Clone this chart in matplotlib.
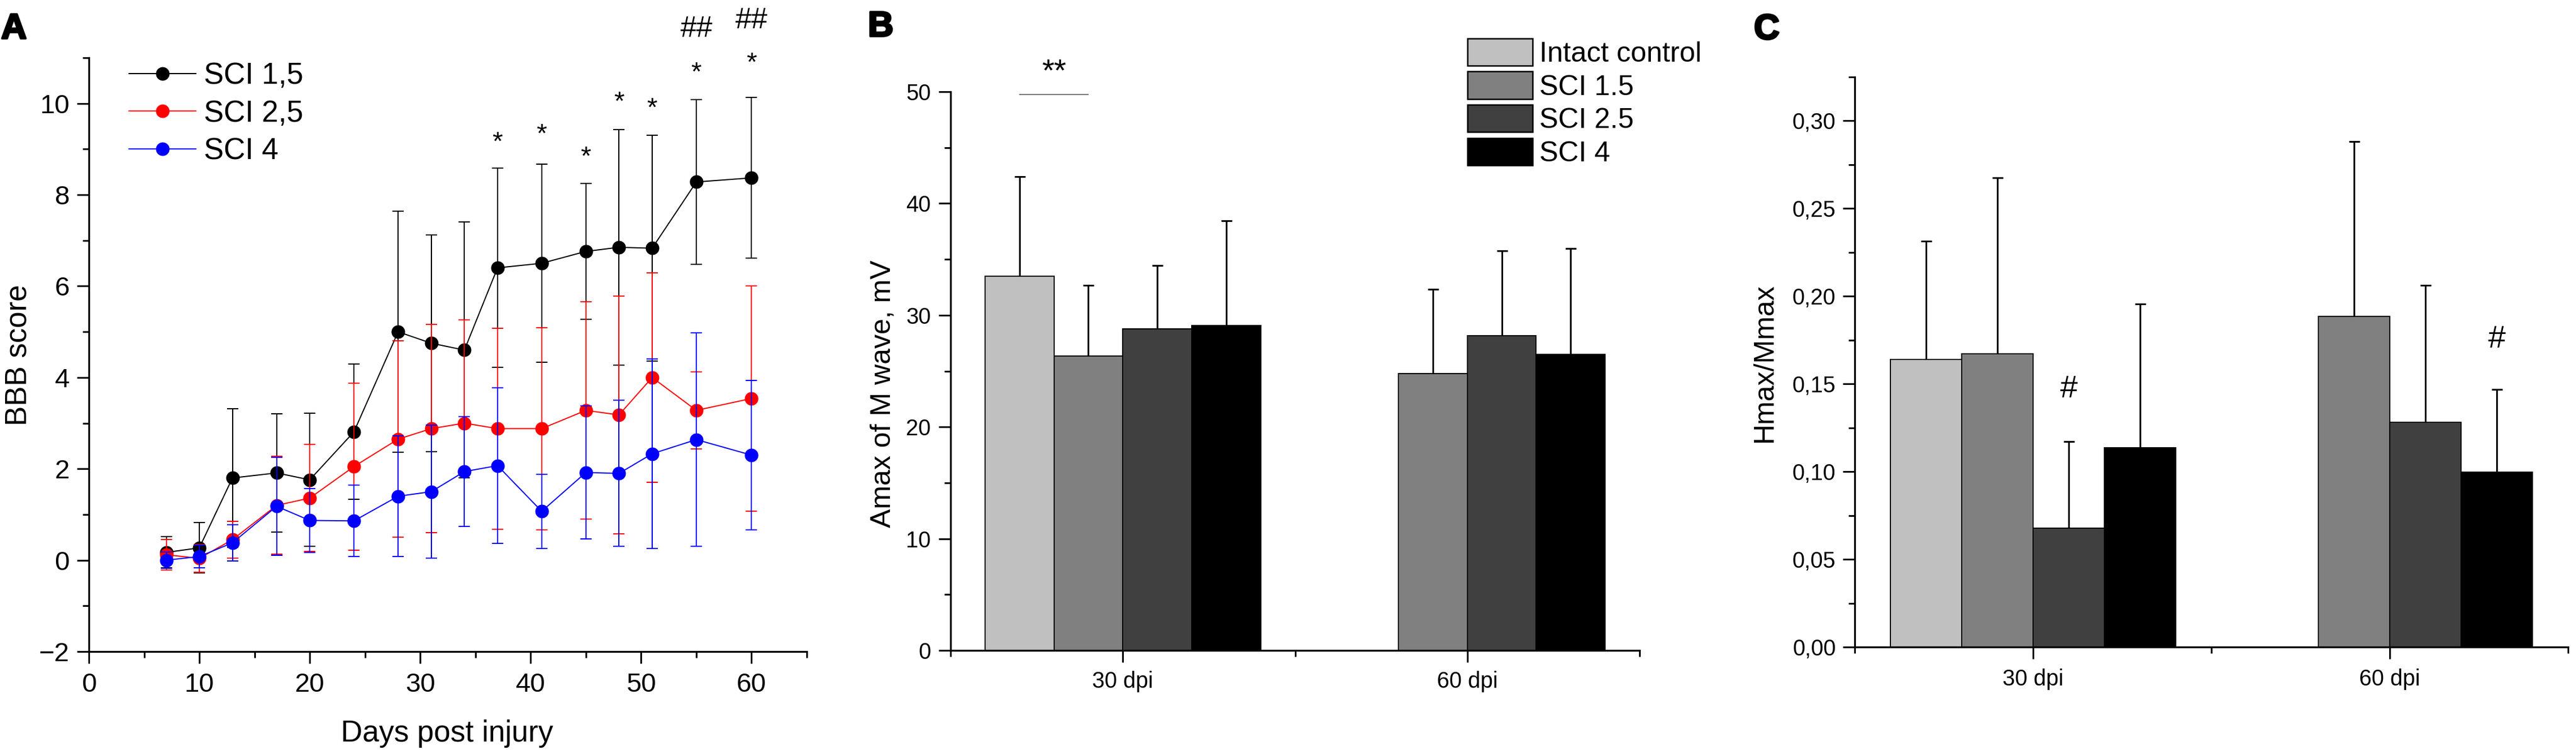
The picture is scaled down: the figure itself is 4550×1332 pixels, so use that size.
import matplotlib
matplotlib.use('Agg')
import matplotlib.pyplot as plt
import matplotlib.patheffects as pe
from matplotlib.patches import Patch
from matplotlib.ticker import MultipleLocator, FixedLocator, FuncFormatter

plt.rcParams['font.family'] = ['Liberation Sans', 'DejaVu Sans']

# ---------------- Panel A data (BBB score) ----------------
days = [7, 10, 13, 17, 20, 24, 28, 31, 34, 37, 41, 45, 48, 51, 55, 60]
sci15_mean = [0.17, 0.27, 1.80, 1.91, 1.76, 2.81, 5.00, 4.75, 4.60, 6.40, 6.50, 6.76, 6.85, 6.83, 8.28, 8.37]
sci15_sd = [0.34, 0.55, 1.52, 1.30, 1.46, 1.48, 2.64, 2.37, 2.80, 2.18, 2.17, 1.49, 2.58, 2.47, 1.80, 1.76]
sci25_mean = [0.12, 0.04, 0.45, 1.20, 1.36, 2.05, 2.65, 2.88, 3.00, 2.88, 2.88, 3.28, 3.18, 4.00, 3.28, 3.54]
sci25_sd = [0.33, 0.30, 0.40, 1.07, 1.17, 1.83, 2.15, 2.28, 2.26, 2.20, 2.21, 2.38, 2.60, 2.29, 0.84, 2.47]
sci4_mean = [0.00, 0.08, 0.38, 1.18, 0.87, 0.86, 1.40, 1.50, 1.94, 2.07, 1.07, 1.92, 1.90, 2.33, 2.64, 2.30]
sci4_sd = [0.18, 0.25, 0.40, 1.07, 0.70, 0.78, 1.32, 1.46, 1.20, 1.70, 0.81, 1.46, 1.60, 2.08, 2.34, 1.63]
line_labels = ['SCI 1,5', 'SCI 2,5', 'SCI 4']
line_colors = ['#000000', '#FF0000', '#0000FF']

star_days = [37, 41, 45, 48, 51, 55, 60]
star_y = [9.32, 9.49, 9.00, 10.20, 10.06, 10.85, 11.06]
hash_days = [55, 60]
hash_y = [11.68, 11.87]

# ---------------- Panels B / C data ----------------
groups = ['30 dpi', '60 dpi']
bar_labels = ['Intact control', 'SCI 1.5', 'SCI 2.5', 'SCI 4']
bar_colors = ['#C0C0C0', '#808080', '#404040', '#000000']

amax_mean = [[33.50, None], [26.34, 24.79], [28.75, 28.15], [29.10, 26.51]]
amax_sd = [[8.92, None], [6.34, 7.55], [5.70, 7.63], [9.35, 9.45]]

hm_mean = [[0.1641, None], [0.1671, 0.1886], [0.0678, 0.1282], [0.1135, 0.0996]]
hm_sd = [[0.0673, None], [0.1005, 0.0997], [0.0495, 0.0781], [0.0820, 0.0474]]

# ---------------- figure ----------------
W, H = 4550, 1332
DPI = 100
fig = plt.figure(figsize=(W / DPI, H / DPI), dpi=DPI)


def px(v):
    return v * 72.0 / DPI


def rect(l, t, r, b):
    return [l / W, 1 - b / H, (r - l) / W, (b - t) / H]


def style(ax, xpad, ypad):
    for s in ['top', 'right']:
        ax.spines[s].set_visible(False)
    for s in ['left', 'bottom']:
        ax.spines[s].set_linewidth(px(3.3))
    ax.tick_params(which='major', direction='out', length=px(21), width=px(3),
                   top=False, right=False)
    ax.tick_params(which='minor', direction='out', length=px(11), width=px(3),
                   top=False, right=False)
    ax.tick_params(axis='x', which='major', pad=xpad)
    ax.tick_params(axis='y', which='major', pad=ypad)


# ================= Panel A =================
axA = fig.add_axes(rect(157, 102, 1425, 1151))
style(axA, 11.5, 9.5)
means = [sci15_mean, sci25_mean, sci4_mean]
sds = [sci15_sd, sci25_sd, sci4_sd]
handles = []
for m, s, c, lab in zip(means, sds, line_colors, line_labels):
    axA.errorbar(days, m, yerr=s, fmt='none', ecolor=c, elinewidth=px(2),
                 capsize=px(10), capthick=px(2))
    h, = axA.plot(days, m, '-o', color=c, lw=px(2), markersize=px(24),
                  markeredgewidth=0, label=lab)
    handles.append(h)
axA.set_xlim(0, 65)
axA.set_ylim(-2, 11)
axA.xaxis.set_major_locator(FixedLocator([0, 10, 20, 30, 40, 50, 60]))
axA.xaxis.set_minor_locator(FixedLocator([5, 15, 25, 35, 45, 55, 65]))
axA.yaxis.set_major_locator(FixedLocator([-2, 0, 2, 4, 6, 8, 10]))
axA.yaxis.set_minor_locator(FixedLocator([-1, 1, 3, 5, 7, 9, 11]))
axA.tick_params(axis='both', which='major', labelsize=34)
axA.set_xlabel('Days post injury', fontsize=38)
axA.xaxis.set_label_coords(789 / W, 1 - 1271 / H, transform=fig.transFigure)
axA.set_ylabel('BBB score', fontsize=38)
axA.yaxis.label.set(va='center', ha='center', rotation_mode='default')
axA.yaxis.set_label_coords(33 / W, 1 - 627 / H, transform=fig.transFigure)

for d, y in zip(star_days, star_y):
    axA.annotate('*', (d, y), xytext=(0, -0.575 * 34), textcoords='offset points',
                 ha='center', va='baseline', fontsize=34, annotation_clip=False)
for d, y in zip(hash_days, hash_y):
    axA.annotate('##', (d, y), xytext=(0, -0.345 * 37), textcoords='offset points',
                 ha='center', va='baseline', fontsize=37, annotation_clip=False)

fig.legend(handles=handles, loc='upper left', bbox_to_anchor=(227.5 / W, 1 - 109 / H),
           frameon=False, fontsize=38, handlelength=2.24, handletextpad=0.27,
           labelspacing=0.32, borderpad=0, borderaxespad=0, numpoints=1)


# ================= Panels B and C =================
offsets = [-0.3, -0.1, 0.1, 0.3]
bw = 0.2


def bars(ax, mean, sd):
    for k in range(4):
        xs, ys, es = [], [], []
        for g in range(2):
            if mean[k][g] is None:
                continue
            xs.append(g + 1 + offsets[k])
            ys.append(mean[k][g])
            es.append(sd[k][g])
        ax.bar(xs, ys, width=bw, color=bar_colors[k], edgecolor='black',
               linewidth=px(2), zorder=2, label=bar_labels[k])
        ax.errorbar(xs, ys, yerr=[[0] * len(es), es], fmt='none', ecolor='black',
                    elinewidth=px(3), capsize=px(9.5), capthick=px(3), zorder=1)
    ax.set_xlim(0.5, 2.5)
    ax.xaxis.set_major_locator(FixedLocator([1, 2]))
    ax.set_xticklabels(groups)
    ax.xaxis.set_minor_locator(FixedLocator([0.5, 1.5, 2.5]))
    ax.tick_params(axis='both', which='major', labelsize=28.5)


axB = fig.add_axes(rect(1679, 162, 2896, 1149))
style(axB, 11, 10)
bars(axB, amax_mean, amax_sd)
axB.set_ylim(0, 50)
axB.yaxis.set_major_locator(MultipleLocator(10))
axB.yaxis.set_minor_locator(FixedLocator([5, 15, 25, 35, 45]))
axB.set_ylabel('Amax of M wave, mV', fontsize=36)
axB.yaxis.label.set(va='center', ha='center', rotation_mode='default')
axB.yaxis.set_label_coords(1559 / W, 1 - 696 / H, transform=fig.transFigure)
axB.plot([0.7, 0.9], [49.75, 49.75], color='#555555', lw=px(1.6), clip_on=False)
axB.annotate('**', (0.8, 52.6), xytext=(0, -0.575 * 40), textcoords='offset points',
             ha='center', va='baseline', fontsize=40, annotation_clip=False)

leg_handles = [Patch(facecolor=c, edgecolor='black', linewidth=px(2.5), label=l)
               for c, l in zip(bar_colors, bar_labels)]
fig.legend(handles=leg_handles, loc='upper left',
           bbox_to_anchor=(2591.7 / W, 1 - 67.7 / H), frameon=False, fontsize=36,
           handlelength=2.3, handleheight=1.11, labelspacing=0.15,
           handletextpad=0.25, borderpad=0, borderaxespad=0)

axC = fig.add_axes(rect(3276, 136, 4536, 1143))
style(axC, 12, 9)
bars(axC, hm_mean, hm_sd)
axC.set_ylim(0, 0.325)
axC.yaxis.set_major_locator(FixedLocator([0, 0.05, 0.10, 0.15, 0.20, 0.25, 0.30]))
axC.yaxis.set_minor_locator(FixedLocator([0.025, 0.075, 0.125, 0.175, 0.225, 0.275, 0.325]))
axC.yaxis.set_major_formatter(FuncFormatter(lambda v, _: f"{v:.2f}".replace('.', ',')))
axC.set_ylabel('Hmax/Mmax', fontsize=36)
axC.yaxis.label.set(va='center', ha='center', rotation_mode='default')
axC.yaxis.set_label_coords(3116.5 / W, 1 - 641 / H, transform=fig.transFigure)
for xh, yh in [(1.1, 0.1484), (2.3, 0.177)]:
    axC.annotate('#', (xh, yh), xytext=(0, -0.345 * 40), textcoords='offset points',
                 ha='center', va='baseline', fontsize=40, annotation_clip=False)

# panel letters (heavy, like Arial Black)
for lab, x, y in [('A', 2, 22), ('B', 1533, 18), ('C', 3098, 23)]:
    fig.text(x / W, 1 - y / H, lab, fontsize=45, fontweight='bold', ha='left', va='top',
             path_effects=[pe.withStroke(linewidth=px(3.5), foreground='black')])

fig.savefig('out.png', dpi=DPI)
